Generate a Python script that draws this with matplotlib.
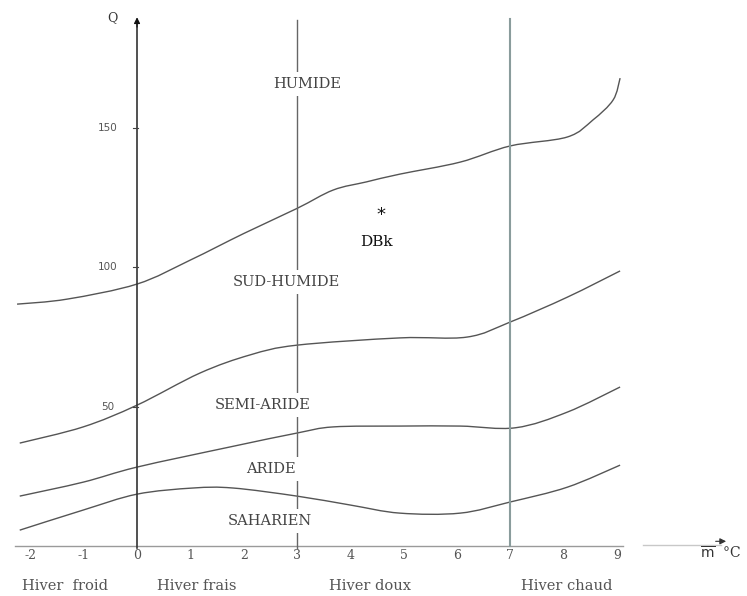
import numpy as np
import matplotlib.pyplot as plt
from matplotlib.path import Path
from matplotlib.patches import PathPatch

# limites des domaines bioclimatiques (m en °C, Q)
m_humide = [-2.25, -1.31, 0.0, 1.0, 2.0, 3.0, 3.68, 4.3, 4.93, 6.06, 7.0, 8.07, 8.55, 8.93, 9.06]
q_humide = [86.7, 88.5, 93.9, 102.5, 112.0, 121.0, 127.6, 130.5, 133.3, 137.6, 143.4, 146.6, 152.7, 159.9, 167.7]

m_subhum = [-2.2, -1.01, 0.0, 1.18, 2.12, 3.0, 4.93, 6.19, 7.0, 8.07, 9.06]
q_subhum = [36.9, 42.7, 50.5, 62.0, 68.5, 72.0, 74.6, 74.9, 80.3, 89.2, 98.6]

m_semiar = [-2.2, -1.01, 0.0, 1.74, 3.0, 3.68, 4.93, 6.06, 7.1, 8.07, 9.06]
q_semiar = [17.9, 22.9, 28.3, 35.5, 40.5, 42.7, 43.0, 43.0, 42.4, 48.0, 57.0]

m_aride = [-2.2, -1.01, 0.0, 1.05, 1.8, 3.0, 4.0, 4.93, 6.06, 7.0, 8.07, 9.06]
q_aride = [5.7, 12.9, 18.6, 20.8, 20.8, 17.9, 14.7, 11.8, 11.8, 15.8, 21.1, 29.0]

x_ticks = [-2, -1, 0, 1, 2, 3, 4, 5, 6, 7, 8, 9]
y_ticks = [50, 100, 150]
hivers = ["Hiver  froid", "Hiver frais", "Hiver doux", "Hiver chaud"]
hivers_x = [-2.15, 0.38, 3.6, 7.2]

zones = ["HUMIDE", "SUD-HUMIDE", "SEMI-ARIDE", "ARIDE", "SAHARIEN"]
zones_x = [3.19, 2.8, 2.35, 2.51, 2.5]
zones_q = [165.5, 94.5, 50.5, 27.5, 9.0]

station = "DBk"
station_m, station_q = 4.58, 118.5


def courbe(ax, xs, ys, **kw):
    # courbe lisse (Catmull-Rom -> Bezier) passant par les points lus
    p = np.column_stack([xs, ys])
    p = np.vstack([p[0], p, p[-1]])
    verts = [tuple(p[1])]
    codes = [Path.MOVETO]
    for i in range(1, len(p) - 2):
        c1 = p[i] + (p[i + 1] - p[i - 1]) / 6
        c2 = p[i + 1] - (p[i + 2] - p[i]) / 6
        verts += [tuple(c1), tuple(c2), tuple(p[i + 1])]
        codes += [Path.CURVE4] * 3
    ax.add_patch(PathPatch(Path(verts, codes), fill=False, **kw))


fig = plt.figure(figsize=(7.47, 5.96), dpi=100)
ax = fig.add_axes([0, 0, 1, 1])
ax.set_xlim(-2.57, 11.44)
ax.set_ylim(-17.9, 195.7)
ax.axis("off")

serif = "DejaVu Serif"

# axes
ax.plot([-2.29, 9.12], [0, 0], color="#9a9a9a", lw=1.0)
ax.plot([9.49, 10.95], [0.5, 0.5], color="#c8c8c8", lw=1.0)
ax.annotate("", xy=(11.1, 1.7), xytext=(10.8, 1.7),
            arrowprops=dict(arrowstyle="-|>", color="#333333", lw=0.8, mutation_scale=9))
ax.plot([0, 0], [-0.7, 188], color="#333333", lw=1.2)
ax.annotate("", xy=(0, 190.5), xytext=(0, 185),
            arrowprops=dict(arrowstyle="-|>", color="#111111", lw=0.8, mutation_scale=9))
ax.text(-0.47, 189.5, "Q", fontsize=9, family=serif, color="#333333", ha="center", va="center")

for q in y_ticks:
    ax.plot([-0.08, 0.02], [q, q], color="#444444", lw=0.8)
    ax.text(-0.55, q, str(q), fontsize=7.5, color="#555555", ha="center", va="center")

# séparations des hivers
ax.plot([3, 3], [-0.7, 188.5], color="#666666", lw=1.0)
ax.plot([7, 7], [0, 189], color="#8a9c9c", lw=1.5)

for xs, ys in [(m_humide, q_humide), (m_subhum, q_subhum),
               (m_semiar, q_semiar), (m_aride, q_aride)]:
    courbe(ax, xs, ys, edgecolor="#555555", lw=1.0)

for name, x, q in zip(zones, zones_x, zones_q):
    ax.text(x, q, name, fontsize=10.5, family=serif, color="#444444",
            ha="center", va="center",
            bbox=dict(boxstyle="square,pad=0.35", fc="white", ec="none"))

ax.text(station_m, station_q, "*", fontsize=13, color="#111111", ha="center", va="center")
ax.text(station_m - 0.08, station_q - 9.5, station, fontsize=11, family=serif,
        color="#111111", ha="center", va="center")

for t in x_ticks:
    ax.text(t, -3.4, str(t), fontsize=9, family=serif, color="#555555",
            ha="center", va="center")
ax.text(10.95, -2.8, r"$\overline{\mathrm{m}}$  °C", fontsize=10, family=serif,
        color="#333333", ha="center", va="center")

for name, x in zip(hivers, hivers_x):
    ax.text(x, -14.2, name, fontsize=10.5, family=serif, color="#555555",
            ha="left", va="center")

fig.savefig("out.png", dpi=100)
